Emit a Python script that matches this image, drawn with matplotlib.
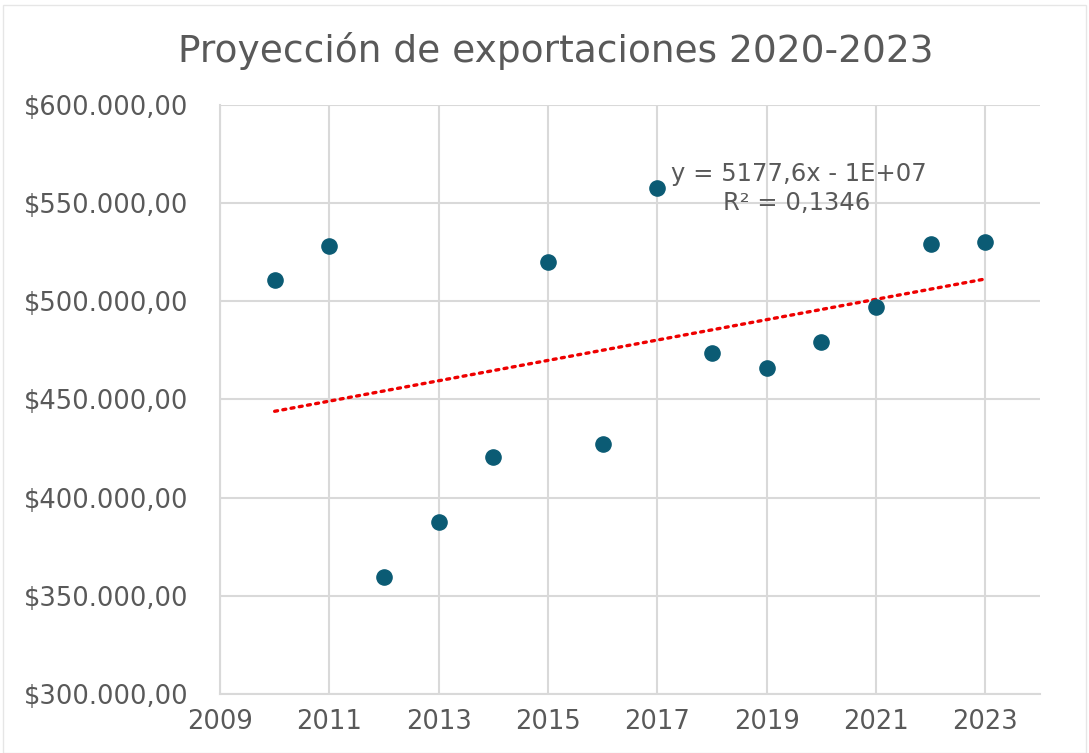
import matplotlib.pyplot as plt
import numpy as np
from matplotlib.ticker import FuncFormatter
from matplotlib.patches import Rectangle

# datos
anios = [2010, 2011, 2012, 2013, 2014, 2015, 2016, 2017, 2018, 2019, 2020, 2021, 2022, 2023]
exportaciones = [510900, 528200, 359600, 387600, 420700, 520000, 427300,
                 557700, 473700, 466000, 479300, 497100, 529200, 530200]
ecuacion = "y = 5177,6x - 1E+07"
r2_texto = "R² = 0,1346"
titulo = "Proyección de exportaciones 2020-2023"

gris = '#595959'
rejilla = '#d9d9d9'

fig = plt.figure(figsize=(10.89, 7.53), dpi=100)
fig.patches.append(Rectangle((0.003, 0.0), 0.994, 0.993, transform=fig.transFigure,
                             fill=False, edgecolor='#e6e6e6', lw=1))
ax = fig.add_axes([0.202, 0.0784, 0.753, 0.7822])

# linea de tendencia (minimos cuadrados)
m, b = np.polyfit(anios, exportaciones, 1)
xt = np.array([anios[0], anios[-1]])
ax.plot(xt, m * xt + b, color='#ee0000', lw=2.4, linestyle=(0, (0.9, 1.6)),
        dash_capstyle='round', zorder=2)

ax.scatter(anios, exportaciones, s=120, color='#0b5b74', zorder=3)

ax.set_xlim(2009, 2024)
ax.set_ylim(300000, 600000)
ax.set_xticks(range(2009, 2024, 2))
ax.set_yticks(range(300000, 600001, 50000))

def pesos(v, pos):
    s = f"{v:,.2f}".replace(',', 'X').replace('.', ',').replace('X', '.')
    return '$' + s

ax.yaxis.set_major_formatter(FuncFormatter(pesos))
ax.grid(True, color=rejilla, lw=1.5)
ax.set_axisbelow(True)
for lado in ['top', 'right']:
    ax.spines[lado].set_visible(False)
for lado in ['left', 'bottom']:
    ax.spines[lado].set_color(rejilla)
    ax.spines[lado].set_linewidth(1.5)
ax.tick_params(length=0, labelsize=18.5, colors=gris)
ax.tick_params(axis='y', pad=23)
ax.tick_params(axis='x', pad=11)

ax.text(2017.25, 565000, ecuacion, fontsize=17.5, color=gris, ha='left', va='center')
ax.text(2019.55, 550300, r2_texto, fontsize=17.5, color=gris, ha='center', va='center')

fig.text(0.51, 0.932, titulo, fontsize=27, color=gris, ha='center', va='center')

fig.savefig('out.png', dpi=100)
